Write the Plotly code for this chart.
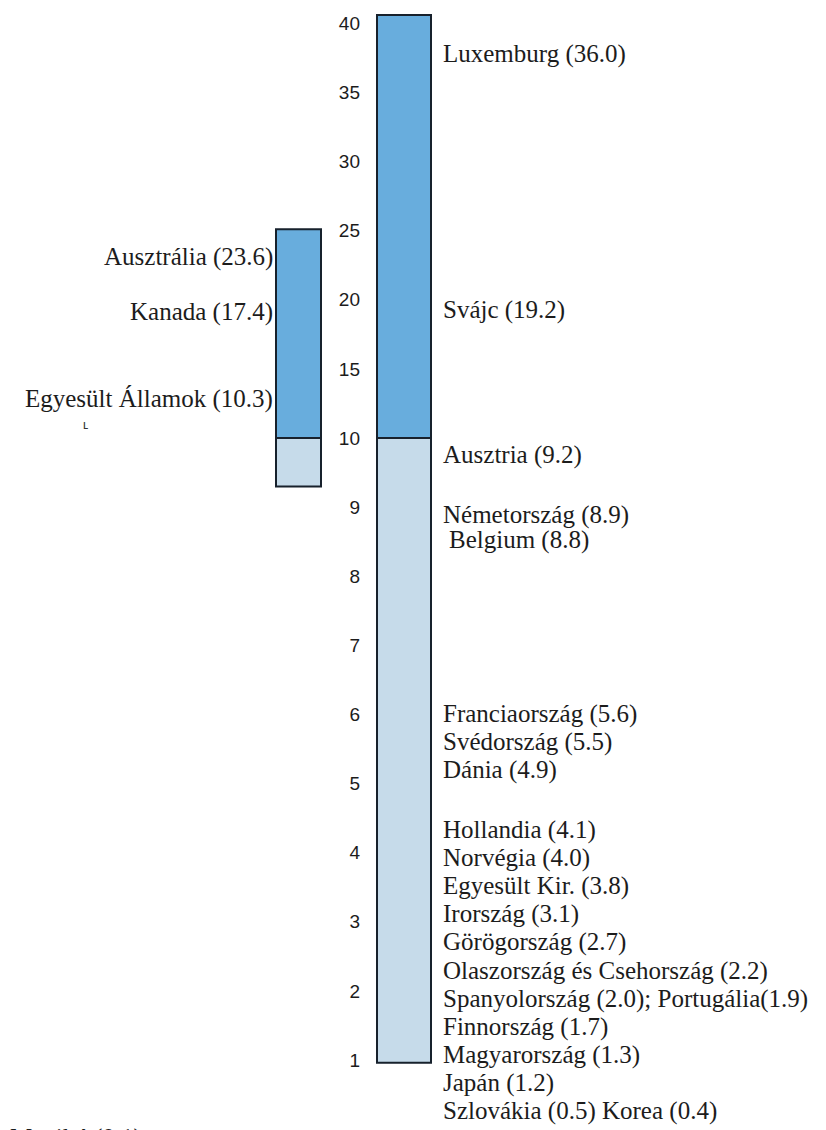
import plotly.graph_objects as go

# ---------------- data ----------------
tick_values = [1, 2, 3, 4, 5, 6, 7, 8, 9, 10, 15, 20, 25, 30, 35, 40]
tick_labels = [str(v) for v in tick_values]

# column ranges (value scale): lower (light) and upper (blue) segments
main_lower = [0.96, 10.0]
main_upper = [10.0, 40.6]
left_lower = [9.3, 10.0]
left_upper = [10.0, 25.1]

right_countries = ["Luxemburg", "Svájc", "Ausztria", "Németország", "Belgium",
                   "Franciaország", "Svédország", "Dánia", "Hollandia", "Norvégia",
                   "Egyesült Kir.", "Irország", "Görögország",
                   "Olaszország és Csehország", "Spanyolország", "Portugália",
                   "Finnország", "Magyarország", "Japán", "Szlovákia", "Korea"]
right_values = [36.0, 19.2, 9.2, 8.9, 8.8, 5.6, 5.5, 4.9, 4.1, 4.0, 3.8, 3.1, 2.7,
                2.2, 2.0, 1.9, 1.7, 1.3, 1.2, 0.5, 0.4]

left_countries = ["Ausztrália", "Kanada", "Egyesült Államok"]
left_values = [23.6, 17.4, 10.3]

bottom_country = "Mexikó"
bottom_value = 0.1

# ---------------- broken scale ----------------
def pos(v):
    # 1..10 linear (one step per unit), above 10 one step per 5 units
    return (v - 1.0) if v <= 10 else 9.0 + (v - 10.0) / 5.0

OFF = 8                      # page body margin
W, H = 826 - OFF, 1130 - OFF
Y1, Y10 = 1060 - OFF, 438 - OFF
PX_PER = (Y1 - Y10) / 9.0
y_bottom = -(H - Y1) / PX_PER
y_top = Y1 / PX_PER

def fx(px):
    return (px - OFF) / W

def fy(py):
    return 1 - (py - OFF) / H

C_UP = "#68addd"
C_LO = "#c6dbea"
EDGE = "#17212c"

fig = go.Figure()

def add_seg(xc, width, seg, color):
    fig.add_trace(go.Bar(
        x=[xc - OFF], y=[pos(seg[1]) - pos(seg[0])], base=[pos(seg[0])], width=[width],
        marker=dict(color=color, line=dict(color=EDGE, width=2)),
        hoverinfo="skip", showlegend=False))

add_seg(404, 54, main_lower, C_LO)
add_seg(404, 54, main_upper, C_UP)
add_seg(298.5, 45, left_lower, C_LO)
add_seg(298.5, 45, left_upper, C_UP)

# ---------------- labels ----------------
def lab(i):
    return f"{right_countries[i]} ({right_values[i]:.1f})"

right_lines = [lab(0), lab(1), lab(2), lab(3), " " + lab(4), lab(5), lab(6), lab(7),
               lab(8), lab(9), lab(10), lab(11), lab(12), lab(13),
               f"{lab(14)}; {right_countries[15]}({right_values[15]:.1f})",
               lab(16), lab(17), lab(18), f"{lab(19)} {lab(20)}"]
step = 28.1
right_px = [56, 312, 457, 517, 542, 716, 744, 772] + [832 + k * step for k in range(11)]

serif = "Liberation Serif"
FS = 25
TXT = "#1c1c1c"
annots = []
for t, py in zip(right_lines, right_px):
    x0 = 441
    if t.startswith(" "):
        x0 = 447
        t = t.strip()
    annots.append(dict(x=fx(x0), y=fy(py - 2), xref="paper", yref="paper",
                       text=t, showarrow=False, xanchor="left", yanchor="middle",
                       font=dict(family=serif, size=FS, color=TXT)))

left_px = [259, 314, 401]
for c, v, py in zip(left_countries, left_values, left_px):
    annots.append(dict(x=fx(275), y=fy(py - 2), xref="paper", yref="paper",
                       text=f"{c} ({v:.1f})", showarrow=False, xanchor="right",
                       yanchor="middle",
                       font=dict(family=serif, size=FS, color=TXT)))

annots.append(dict(x=fx(85), y=fy(425), xref="paper", yref="paper", text="ʟ",
                   showarrow=False, xanchor="center", yanchor="middle",
                   font=dict(family="Liberation Sans", size=13, color="#333333")))

annots.append(dict(x=fx(8), y=fy(1138), xref="paper", yref="paper",
                   text=f"{bottom_country} ({bottom_value:.1f})", showarrow=False,
                   xanchor="left", yanchor="middle",
                   font=dict(family=serif, size=FS, color=TXT)))

fig.update_layout(
    width=W, height=H,
    margin=dict(l=0, r=0, t=0, b=0),
    paper_bgcolor="white", plot_bgcolor="white",
    barmode="overlay",
    annotations=annots,
    xaxis=dict(range=[0, W], visible=False, fixedrange=True),
    yaxis=dict(range=[y_bottom, y_top], anchor="free", position=fx(360),
               tickmode="array", tickvals=[pos(v) for v in tick_values],
               ticktext=tick_labels, showgrid=False, zeroline=False,
               showline=False, ticks="",
               tickfont=dict(family="Liberation Sans", size=19,
                             color="#1c1c1c")),
)

fig.write_html("out.html")
